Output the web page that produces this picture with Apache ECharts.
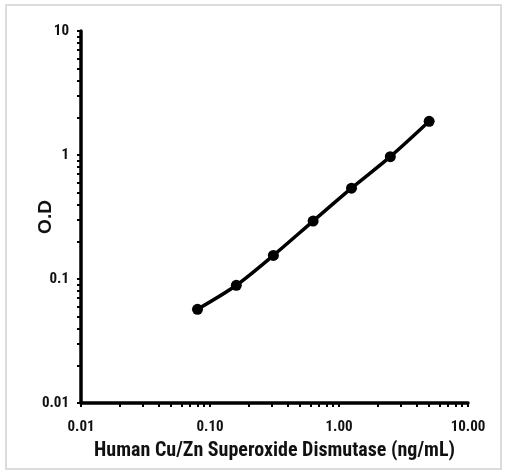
<!DOCTYPE html>
<html><head><meta charset="utf-8">
<script src="https://cdn.jsdelivr.net/npm/echarts@6/dist/echarts.min.js"></script>
<style>html,body{margin:0;padding:0;background:#fff}#c{width:506px;height:474px}</style>
</head><body><div id="c"></div>
<script>
const concentration = [0.08, 0.16, 0.31, 0.63, 1.25, 2.5, 5.0];
const od = [0.057, 0.089, 0.155, 0.293, 0.54, 0.97, 1.87];
const xTickLabels = [0.01, 0.1, 1, 10];
const yTickLabels = [0.01, 0.1, 1, 10];
const minorTicks = [];
[0.01, 0.1, 1].forEach(d => { for (let k = 1; k <= 9; k++) minorTicks.push(+(d * k).toPrecision(3)); });
minorTicks.push(10);

const font = '"Roboto Condensed", "Liberation Sans", Arial, sans-serif';
const chart = echarts.init(document.getElementById('c'));
chart.setOption({
  animation: false,
  graphic: [{type: 'rect', shape: {x: 6, y: 5, width: 495, height: 464}, style: {fill: 'none', stroke: '#dcdcdc', lineWidth: 2}}],
  grid: {left: 81, right: 38, top: 31, bottom: 71},
  xAxis: {
    type: 'log', logBase: 10, min: 0.01, max: 10,
    name: 'Human Cu/Zn Superoxide Dismutase (ng/mL)', nameLocation: 'middle', nameGap: 38, nameMoveOverlap: false,
    nameTextStyle: {fontFamily: font, fontWeight: 'bold', fontSize: 20, color: '#111'},
    axisLine: {lineStyle: {color: '#000', width: 3.5}},
    axisTick: {show: true, customValues: minorTicks, length: 4, lineStyle: {color: '#000', width: 2}},
    axisLabel: {customValues: xTickLabels, fontFamily: font, fontWeight: 'bold', fontSize: 15, color: '#111', margin: 17,
      formatter: v => v.toFixed(2)},
    splitLine: {show: false}
  },
  yAxis: {
    type: 'log', logBase: 10, min: 0.01, max: 10,
    name: 'O.D', nameLocation: 'middle', nameGap: 26, nameRotate: 90, nameMoveOverlap: false,
    nameTextStyle: {fontFamily: '"Liberation Sans", Arial, sans-serif', fontWeight: 'bold', fontSize: 19, color: '#111'},
    axisLine: {lineStyle: {color: '#000', width: 3.5}},
    axisTick: {show: true, customValues: minorTicks, length: 4, lineStyle: {color: '#000', width: 2}},
    axisLabel: {customValues: yTickLabels, fontFamily: font, fontWeight: 'bold', fontSize: 15, color: '#111', margin: 12,
      formatter: v => String(+v.toPrecision(2))},
    splitLine: {show: false}
  },
  series: [{
    type: 'line', smooth: 0.3,
    data: concentration.map((x, i) => [x, od[i]]),
    symbol: 'circle', symbolSize: 11,
    lineStyle: {color: '#000', width: 3.5},
    itemStyle: {color: '#000'}
  }]
});
</script></body></html>
